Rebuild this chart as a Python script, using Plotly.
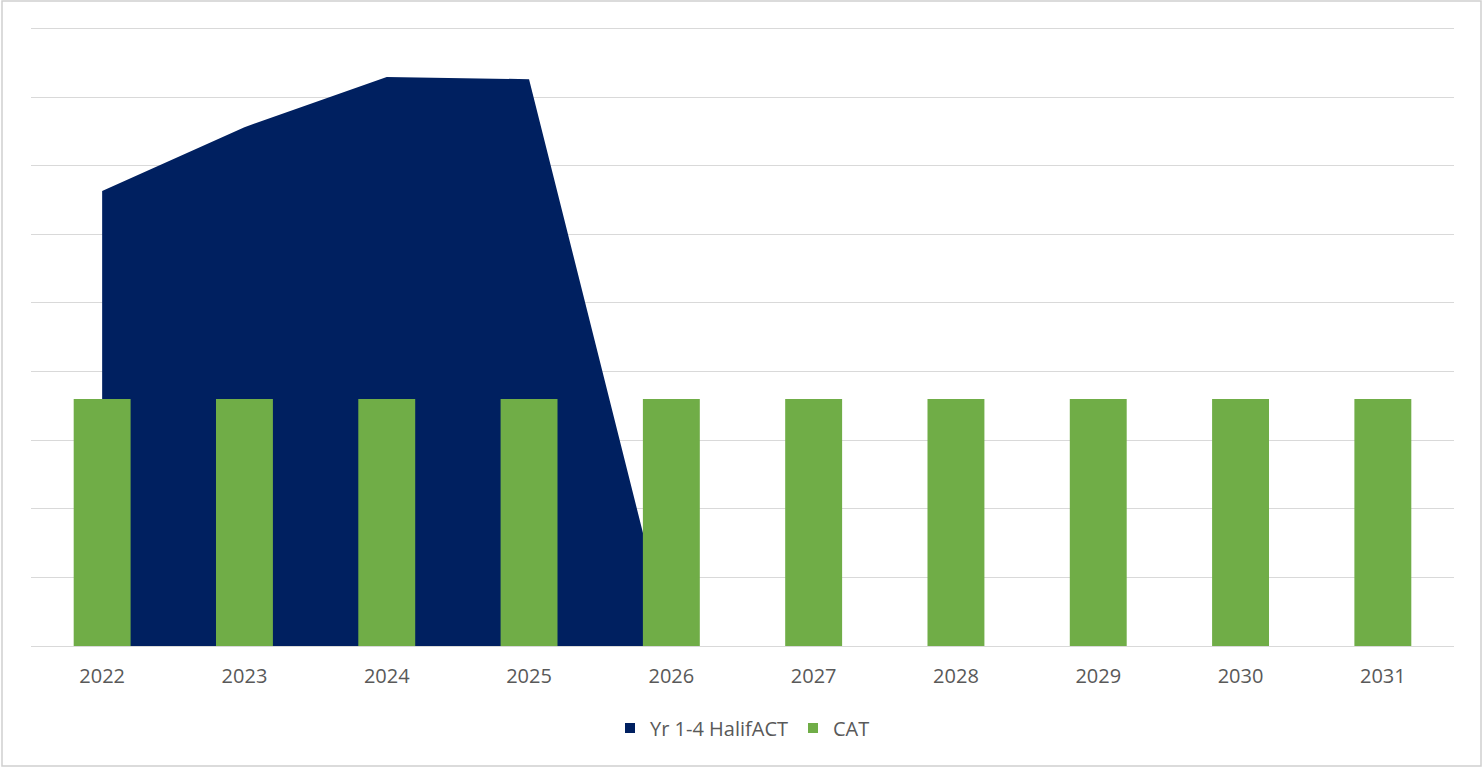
import plotly.graph_objects as go

years = ["2022", "2023", "2024", "2025", "2026", "2027", "2028", "2029", "2030", "2031"]
halifact = [6.63, 7.56, 8.29, 8.26, 0, 0, 0, 0, 0, 0]
cat = [3.6, 3.6, 3.6, 3.6, 3.6, 3.6, 3.6, 3.6, 3.6, 3.6]

NAVY = "#002060"
GREEN = "#70AD47"
FONT = "Open Sans"
TXT = "#595959"

fig = go.Figure()
fig.add_trace(go.Scatter(
    x=years, y=halifact, name="Yr 1-4 HalifACT",
    mode="none", fill="tozeroy", fillcolor=NAVY,
    xaxis="x", yaxis="y", showlegend=False, legendgroup="h",
))
# legend entries with square swatches
fig.add_trace(go.Scatter(
    x=[None], y=[None], name="Yr 1-4 HalifACT", mode="markers",
    marker=dict(symbol="square", size=10, color=NAVY),
    xaxis="x", yaxis="y", legendgroup="h",
))
fig.add_trace(go.Scatter(
    x=[None], y=[None], name="CAT", mode="markers",
    marker=dict(symbol="square", size=10, color=GREEN),
    xaxis="x", yaxis="y", legendgroup="c",
))
fig.add_trace(go.Bar(
    x=years, y=cat, name="CAT", marker=dict(color=GREEN, line=dict(width=0)),
    width=0.4, xaxis="x", yaxis="y2", showlegend=False, legendgroup="c",
))

W, H = 1483, 768
L, R, T, B = 31, 29, 27, 122
pw, ph = W - L - R, H - T - B
YMAX = 9.02

def px_x(p):
    return (p - L) / pw

def px_y(p):
    return (H - B - p) / ph

fig.update_layout(
    width=W, height=H,
    margin=dict(l=L, r=R, t=T, b=B),
    paper_bgcolor="white", plot_bgcolor="white",
    font=dict(family=FONT, color=TXT, size=20),
    xaxis=dict(type="category", range=[-0.5, 9.5], showgrid=False,
               showline=True, linecolor="#d9d9d9", linewidth=1,
               ticks="", tickfont=dict(size=20, color=TXT),
               ticklabelstandoff=12, fixedrange=True),
    yaxis=dict(range=[0, YMAX], dtick=1, showgrid=True, gridcolor="#d9d9d9",
               gridwidth=1, showticklabels=False, zeroline=False, ticks=""),
    yaxis2=dict(range=[0, YMAX], overlaying="y", showgrid=False,
                showticklabels=False, zeroline=False, ticks=""),
    showlegend=True,
    legend=dict(orientation="h", x=0.5, xanchor="center", y=px_y(728), yanchor="middle",
                font=dict(size=20, color=TXT), traceorder="normal", itemwidth=30),
    shapes=[dict(type="rect", xref="paper", yref="paper",
                 x0=px_x(2), x1=px_x(1481), y0=px_y(766), y1=px_y(1),
                 line=dict(color="#d0d0d0", width=1.5), fillcolor="rgba(0,0,0,0)")],
)

fig.write_html("out.html", config={"displayModeBar": False},
               post_script="document.body.style.margin='0';")
